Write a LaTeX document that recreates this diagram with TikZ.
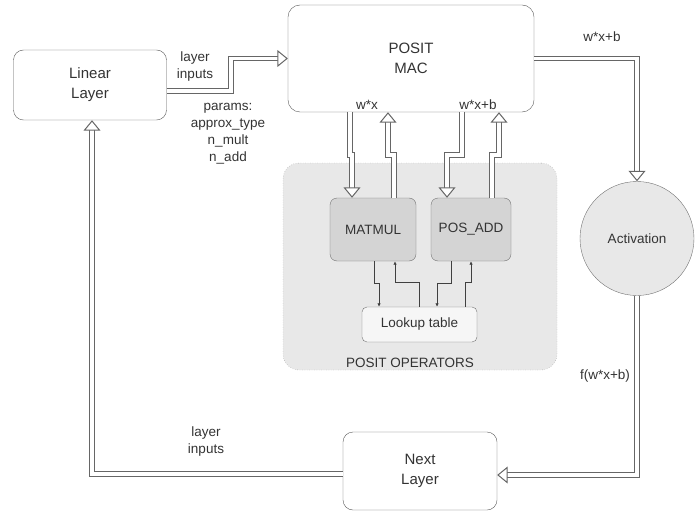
\documentclass[tikz,border=0pt]{standalone}
\usepackage{fontspec}
\setmainfont{Liberation Sans}
\usepackage{xcolor}
\usetikzlibrary{arrows.meta,positioning}
\definecolor{opfill}{HTML}{E8E8E8}
\definecolor{unitfill}{HTML}{D4D4D4}
\definecolor{ink}{HTML}{333333}
\tikzset{
  mbox/.style={draw=black!65, fill=white, rounded corners=10pt, align=center, inner sep=0pt, text=ink, font=\fontsize{15}{20}\selectfont},
  ubox/.style={draw=black!55, fill=unitfill, rounded corners=7pt, align=center, inner sep=0pt, text=ink, font=\fontsize{13.5}{16}\selectfont},
  lbl/.style={align=center, inner sep=1pt, text=ink, font=\fontsize{13.5}{17}\selectfont},
  pipe/.style={draw=black!60, line width=1pt, double=white, double distance=3.6pt, -{Triangle[open, width=17pt, length=10.5pt, fill=white]}},
  tarr/.style={draw=black!75, line width=0.7pt, -{Latex[length=3.5pt, width=3.5pt]}}
}
\begin{document}
\begin{tikzpicture}[x=1pt, y=-1pt]
\useasboundingbox (0,0) rectangle (700,513);
\node[mbox, minimum width=153pt, minimum height=70pt] (lin) at (90,85) {Linear\\Layer};
\node[mbox, minimum width=246pt, minimum height=107pt, rounded corners=12pt] (mac) at (411,58.5) {POSIT\\MAC};
\node[draw=black!45, dotted, fill=opfill, rounded corners=16pt, minimum width=274pt, minimum height=207pt] (ops) at (420,266.5) {};
\node[lbl, above=1pt of ops.south, xshift=-10pt] (opsl) {POSIT OPERATORS};
\node[ubox, minimum width=86pt, minimum height=63pt] (mm) at (373,229.5) {MATMUL};
\node[ubox, minimum width=80pt, minimum height=63pt] (pa) at (471,229.5) {POS\_ADD};
\node[ubox, fill=white!60!opfill, rounded corners=5pt, minimum width=115pt, minimum height=35pt] (lut) at (419.5,324.5) {Lookup table};
\node[circle, draw=black!55, fill=opfill, minimum size=114pt, inner sep=0pt, text=ink, font=\fontsize{13.5}{16}\selectfont] (act) at (637,238.5) {Activation};
\node[mbox, minimum width=154pt, minimum height=78pt] (nxt) at (420,471) {Next\\Layer};
% labels
\node[lbl] (l1) at (195,67) {layer\\inputs};
\node[lbl] (l2) at (228,134) {params:\\approx\_type\\n\_mult\\n\_add};
\node[lbl, above=1pt of mac.south, xshift=-44pt] (l3) {w*x};
\node[lbl, above=1pt of mac.south, xshift=67pt] (l4) {w*x+b};
\node[lbl] (l5) at (602,37) {w*x+b};
\node[lbl] (l6) at (605,376) {f(w*x+b)};
\node[lbl] (l7) at (206,442) {layer\\inputs};
% main flow
\draw[pipe] ([yshift=-6pt]lin.east) -- ++(64,0) |- (mac.west);
\draw[pipe] (mac.east) -| (act.north);
\draw[pipe] (act.south) |- ([yshift=-4pt]nxt.east);
\draw[pipe] ([yshift=-3pt]nxt.west) -| ([xshift=2pt]lin.south);
% mac <-> operators
\draw[pipe] ([xshift=-61pt]mac.south) -- ++(0,43) -| ([xshift=-21pt]mm.north);
\draw[pipe] ([xshift=21pt]mm.north) -- ++(0,-43) -| ([xshift=-23pt]mac.south);
\draw[pipe] ([xshift=51pt]mac.south) -- ++(0,43) -| ([xshift=-24pt]pa.north);
\draw[pipe] ([xshift=21pt]pa.north) -- ++(0,-43) -| ([xshift=88pt]mac.south);
% operators <-> lookup table
\draw[tarr] ([xshift=1pt]mm.south) -- ++(0,22) -| ([xshift=-40.5pt]lut.north);
\draw[tarr] ([xshift=-0.5pt]lut.north) -- ++(0,-24) -| ([xshift=22pt]mm.south);
\draw[tarr] ([xshift=-20pt]pa.south) -- ++(0,22) -| ([xshift=17.5pt]lut.north);
\draw[tarr] ([xshift=45.5pt]lut.north) -- ++(0,-24) -| (pa.south);
\end{tikzpicture}
\end{document}
